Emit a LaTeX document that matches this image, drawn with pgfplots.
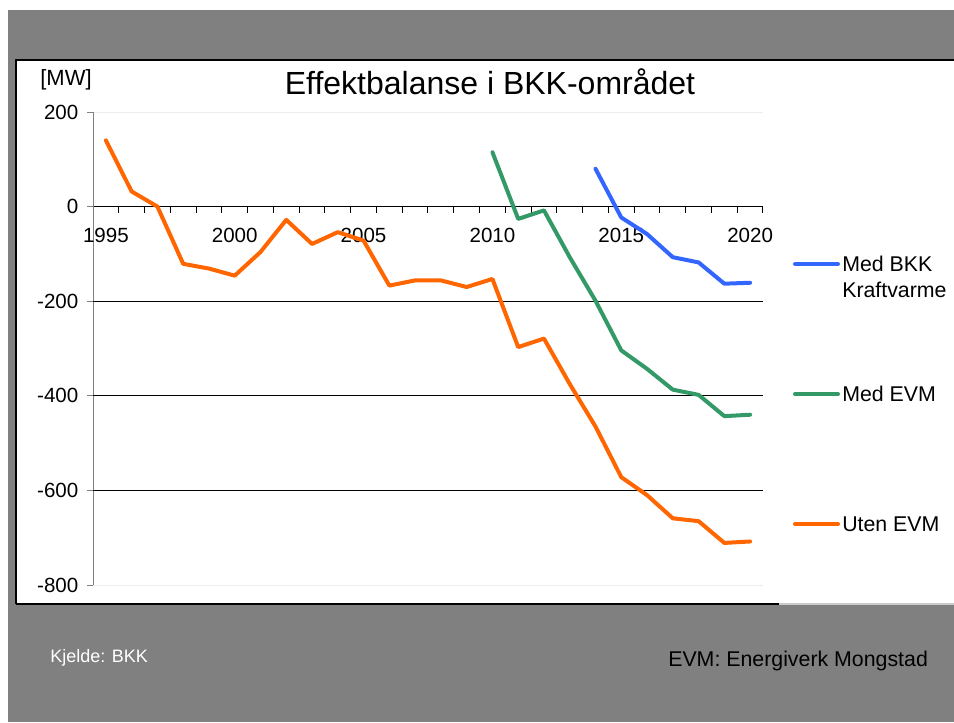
\documentclass[border=0pt]{standalone}
\usepackage{pgfplots}
\pgfplotsset{compat=1.18}
\usepackage{fontspec}
\setmainfont{Liberation Sans}
\definecolor{bgGray}{HTML}{808080}
\definecolor{cBlue}{HTML}{3366FF}
\definecolor{cGreen}{HTML}{339966}
\definecolor{cOrange}{HTML}{FF6600}
\begin{document}
\begin{tikzpicture}
\begin{scope}[x=0.75pt,y=-0.75pt]
\fill[white] (0,0) rectangle (954,722);
\fill[bgGray] (8,10) rectangle (954,722);
\fill[white] (16,60) rectangle (954,604);
\draw[black,line width=1.5pt] (16,604) -- (16,60) -- (954,60);
\draw[black,line width=1.5pt] (16,604) -- (779,604);
\draw[gray!40,line width=1pt] (779,604) -- (954,604);
\end{scope}
\begin{axis}[
  at={(69.75pt,-438.75pt)}, anchor=south west,
  scale only axis, width=502.5pt, height=354.75pt,
  xmin=1994.5, xmax=2020.5, ymin=-800, ymax=200,
  axis y line*=left, axis x line*=middle,
  y axis line style={draw=bgGray, line width=0.75pt},
  x axis line style={draw=black, line width=0.75pt, -},
  /pgf/number format/assume math mode=true,
  ytick={-800,-600,...,200},
  xtick={1995,2000,...,2020},
  minor xtick={1994.5,1995.5,...,2020.5},
  tick align=outside,
  major tick length=4.5pt, minor tick length=4.5pt,
  every major x tick/.append style={draw=none},
  every minor x tick/.append style={draw=black, line width=0.75pt},
  every major y tick/.append style={draw=bgGray, line width=0.75pt},
  x tick label style={/pgf/number format/1000 sep={}, font=\fontsize{15.4pt}{18pt}\selectfont, yshift=-8.5pt},
  y tick label style={font=\fontsize{15.4pt}{18pt}\selectfont, xshift=-3pt},
  ymajorgrids,
  major grid style={color=black!7, line width=0.75pt},
  extra y ticks={-600,-400,-200},
  extra y tick labels={},
  extra y tick style={grid=major, major grid style={black, line width=0.75pt}},
  clip=false,
]
\addplot[cOrange, line width=3pt, line join=round, line cap=round] coordinates {
(1995,140) (1996,32) (1997,0) (1998,-121) (1999,-131) (2000,-146) (2001,-96)
(2002,-28) (2003,-79) (2004,-54) (2005,-72) (2006,-167) (2007,-156) (2008,-156)
(2009,-170) (2010,-153) (2011,-297) (2012,-279) (2013,-375) (2014,-465)
(2015,-572) (2016,-610) (2017,-659) (2018,-665) (2019,-711) (2020,-708)};
\addplot[cGreen, line width=3pt, line join=round, line cap=round] coordinates {
(2010,115) (2011,-26) (2012,-8) (2013,-107) (2014,-199) (2015,-304)
(2016,-343) (2017,-387) (2018,-398) (2019,-443) (2020,-440)};
\addplot[cBlue, line width=3pt, line join=round, line cap=round] coordinates {
(2014,80) (2015,-23) (2016,-58) (2017,-107) (2018,-118) (2019,-163) (2020,-161)};
\end{axis}
\begin{scope}[x=0.75pt,y=-0.75pt]
\node[font=\fontsize{24pt}{28pt}\selectfont, inner sep=0pt] at (490,82) {Effektbalanse i BKK-området};
\node[font=\fontsize{16.5pt}{19pt}\selectfont, inner sep=0pt] at (66,80) {[MW]};
\draw[cBlue, line width=3pt, line cap=round] (795,264) -- (838,264);
\draw[cGreen, line width=3pt, line cap=round] (795,394) -- (838,394);
\draw[cOrange, line width=3pt, line cap=round] (795,524) -- (838,524);
\begin{scope}[every node/.style={font=\fontsize{16pt}{19pt}\selectfont, inner sep=0pt, anchor=west}]
\node at (842,264) {Med BKK};
\node at (842,290) {Kraftvarme};
\node at (842,394) {Med EVM};
\node at (842,524) {Uten EVM};
\end{scope}
\node[font=\fontsize{13.5pt}{16pt}\selectfont, text=white, inner sep=0pt, anchor=west] at (50,658) {Kjelde: BKK};
\node[font=\fontsize{16pt}{19pt}\selectfont, text=black, inner sep=0pt, anchor=base west] at (668,666) {EVM: Energiverk Mongstad};
\end{scope}
\pgfresetboundingbox
\path (0,0) rectangle (715.5pt,-541.5pt);
\end{tikzpicture}
\end{document}
